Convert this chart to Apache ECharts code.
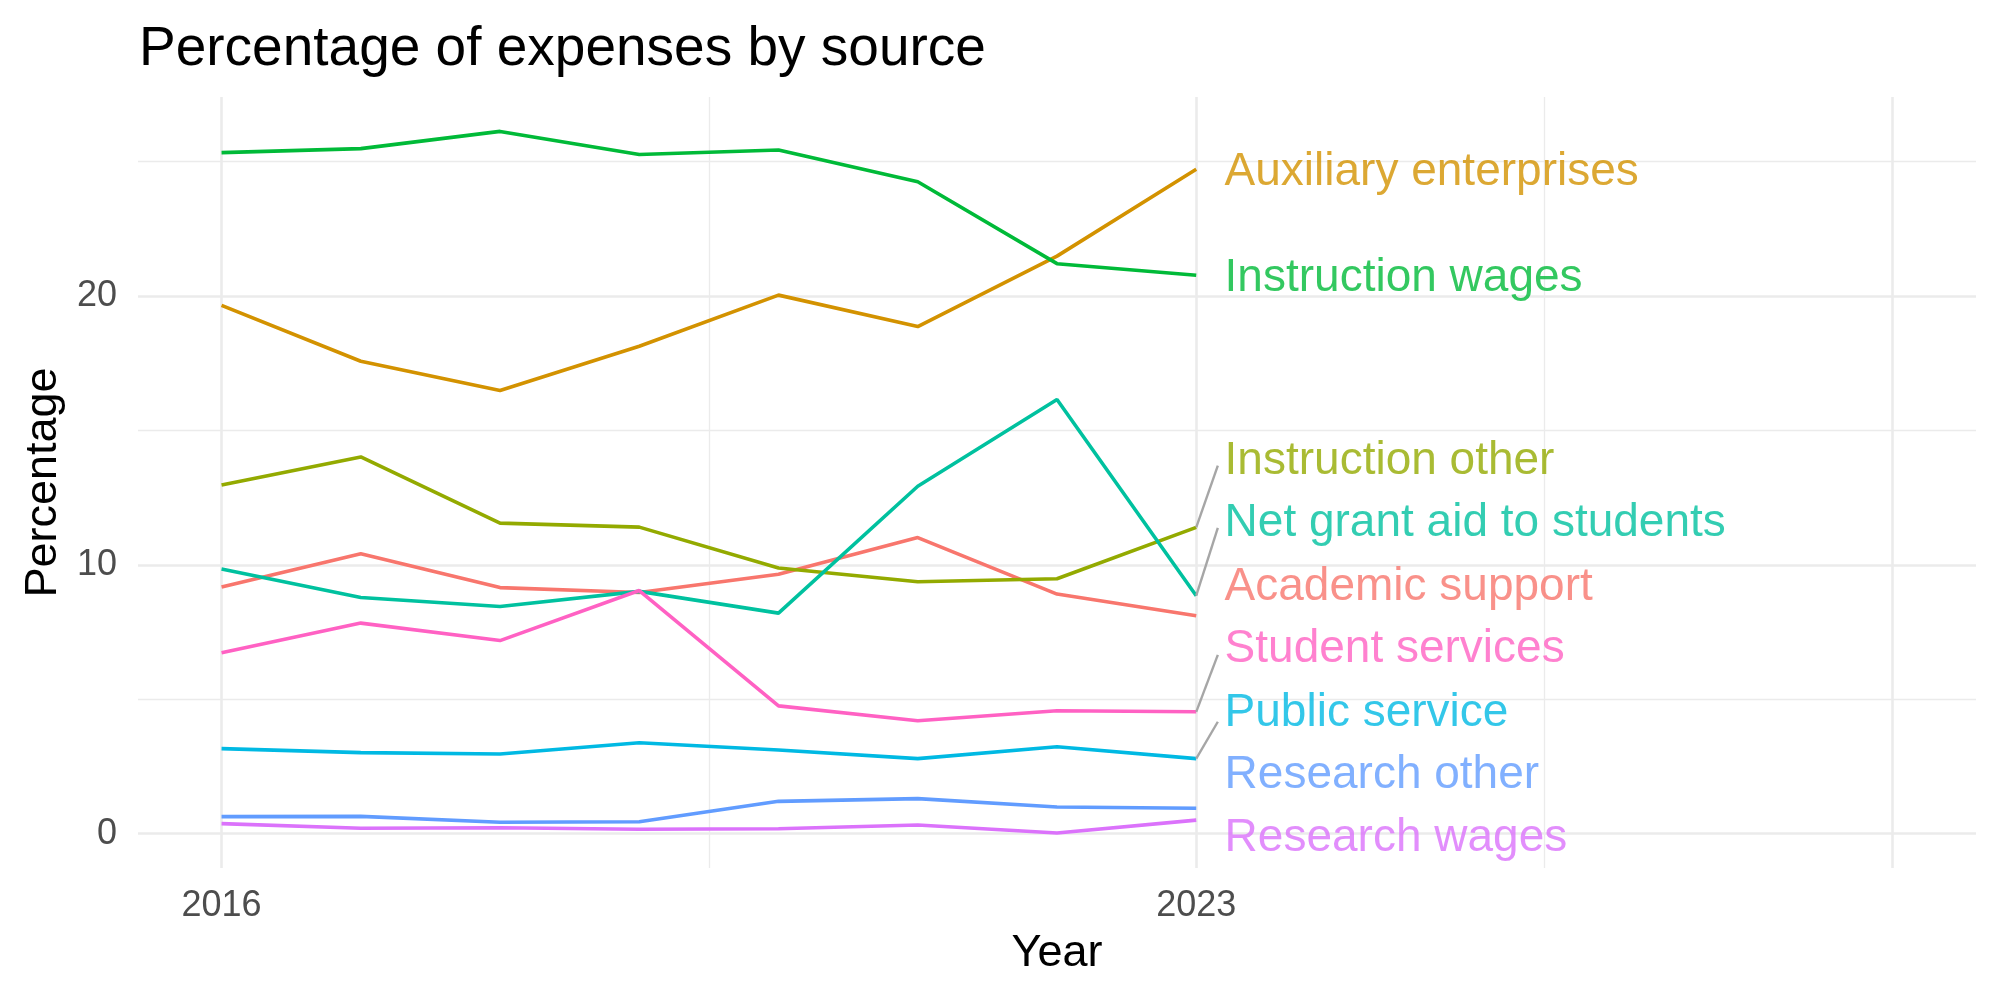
<!DOCTYPE html>
<html>
<head>
<meta charset="utf-8">
<script src="https://cdn.jsdelivr.net/npm/echarts@6/dist/echarts.min.js"></script>
<style>
    html, body { margin: 0; padding: 0; background: #fff; }
    #chart { width: 2000px; height: 1000px; }
</style>
</head>
<body>
<div id="chart"></div>
<script>
    // data
    var years = [2016, 2017, 2018, 2019, 2020, 2021, 2022, 2023];
    var categories = ['Academic support', 'Auxiliary enterprises', 'Instruction other', 'Instruction wages',
        'Net grant aid to students', 'Public service', 'Research other', 'Research wages', 'Student services'];
    var academicSupport = [9.17, 10.41, 9.15, 8.97, 9.65, 11.01, 8.91, 8.10];
    var auxiliaryEnterprises = [19.65, 17.57, 16.48, 18.13, 20.03, 18.86, 21.48, 24.71];
    var instructionOther = [12.97, 14.01, 11.55, 11.40, 9.88, 9.37, 9.48, 11.39];
    var instructionWages = [25.33, 25.48, 26.12, 25.26, 25.43, 24.25, 21.20, 20.77];
    var netGrantAid = [9.84, 8.78, 8.45, 9.01, 8.20, 12.92, 16.15, 8.85];
    var publicService = [3.16, 3.01, 2.96, 3.38, 3.11, 2.79, 3.23, 2.79];
    var researchOther = [0.63, 0.64, 0.42, 0.44, 1.20, 1.30, 0.99, 0.94];
    var researchWages = [0.37, 0.20, 0.22, 0.16, 0.18, 0.32, 0.02, 0.50];
    var studentServices = [6.73, 7.83, 7.18, 9.04, 4.75, 4.20, 4.57, 4.53];
    var allValues = [academicSupport, auxiliaryEnterprises, instructionOther, instructionWages,
        netGrantAid, publicService, researchOther, researchWages, studentServices];

    // repelled label positions (data units, same order as categories) and leader segment ends
    var labelX = 2023.2;
    var labelY = [9.17, 24.58, 13.84, 20.64, 11.53, 4.49, 2.16, -0.18, 6.84];
    var segX = 2023.155;
    var segY = [null, null, 13.69, null, 11.37, 4.16, null, null, 6.65];

    var xLabels = [2016, 2023];
    var yLabels = [0, 10, 20];
    var xMajor = [2016, 2023, 2028];
    var xMinor = [2019.5, 2025.5];
    var yMajor = [0, 10, 20];
    var yMinor = [5, 15, 25];

    var colors = ['#F8766D', '#D39200', '#93AA00', '#00BA38', '#00C19F', '#00B9E3', '#619CFF', '#DB72FB', '#FF61C3'];
    var font = 'Liberation Sans, Arial, sans-serif';

    var myChart = echarts.init(document.getElementById('chart'), null, {renderer: 'canvas'});

    var gridLines = [];
    xMajor.forEach(function (v) { gridLines.push({xAxis: v, lineStyle: {width: 2.6}}); });
    xMinor.forEach(function (v) { gridLines.push({xAxis: v, lineStyle: {width: 1.3}}); });
    yMajor.forEach(function (v) { gridLines.push({yAxis: v, lineStyle: {width: 2.6}}); });
    yMinor.forEach(function (v) { gridLines.push({yAxis: v, lineStyle: {width: 1.3}}); });

    // panel grid drawn as markLines under everything
    var series = [{
        type: 'line',
        silent: true,
        z: 0,
        symbol: 'none',
        lineStyle: {opacity: 0},
        data: [[2016, 0]],
        markLine: {
            silent: true,
            z: 0,
            symbol: ['none', 'none'],
            label: {show: false},
            lineStyle: {color: '#ebebeb', type: 'solid'},
            animation: false,
            data: gridLines
        }
    }];

    categories.forEach(function (name, i) {
        series.push({
            name: name,
            type: 'line',
            z: 2,
            symbol: 'none',
            lineStyle: {color: colors[i], width: 3.6},
            data: years.map(function (y, j) { return [y, allValues[i][j]]; })
        });
    });

    // leader segments
    categories.forEach(function (name, i) {
        if (segY[i] === null) return;
        series.push({
            type: 'line',
            z: 3,
            symbol: 'none',
            lineStyle: {color: '#a6a6a6', width: 2.4},
            data: [[years[years.length - 1], allValues[i][years.length - 1]], [segX, segY[i]]]
        });
    });

    // labels
    series.push({
        type: 'scatter',
        z: 4,
        symbolSize: 1,
        silent: true,
        itemStyle: {color: 'transparent'},
        label: {
            show: true,
            position: 'right',
            distance: 0,
            fontSize: 46,
            fontFamily: font,
            textBorderWidth: 0,
            textBorderColor: 'transparent',
            formatter: function (p) { return p.name; }
        },
        data: categories.map(function (name, i) {
            return {name: name, value: [labelX, labelY[i]], label: {color: colors[i]}};
        })
    });

    myChart.setOption({
        animation: false,
        title: {
            text: 'Percentage of expenses by source',
            left: 139,
            top: 22,
            padding: 0,
            textStyle: {fontSize: 55, fontWeight: 'normal', color: '#000', fontFamily: font}
        },
        grid: {left: 138, right: 24, top: 97, bottom: 132},
        xAxis: {
            type: 'value',
            min: 2015.4,
            max: 2028.6,
            name: 'Year',
            nameLocation: 'middle',
            nameGap: 63,
            nameTextStyle: {fontSize: 45, color: '#000', fontFamily: font},
            axisLine: {show: false},
            axisTick: {show: false},
            splitLine: {show: false},
            axisLabel: {
                customValues: xLabels,
                margin: 20,
                fontSize: 36,
                color: '#4d4d4d',
                fontFamily: font,
                formatter: function (v) { return String(v); }
            }
        },
        yAxis: {
            type: 'value',
            min: -1.28,
            max: 27.4,
            name: 'Percentage',
            nameLocation: 'middle',
            nameGap: 70,
            nameTextStyle: {fontSize: 45, color: '#000', fontFamily: font},
            axisLine: {show: false},
            axisTick: {show: false},
            splitLine: {show: false},
            axisLabel: {
                customValues: yLabels,
                margin: 21,
                fontSize: 36,
                color: '#4d4d4d',
                fontFamily: font
            }
        },
        series: series
    });
</script>
</body>
</html>
